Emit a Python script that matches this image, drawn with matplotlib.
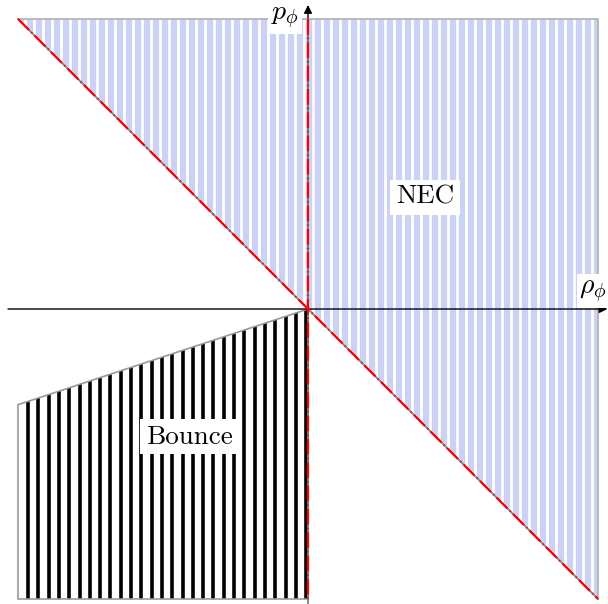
import numpy as np
import matplotlib.pyplot as plt
from matplotlib.patches import Polygon

plt.rcParams['mathtext.fontset'] = 'cm'

# region corners (rho_phi, p_phi)
nec_x = [-1.0, 1.0, 1.0]
nec_y = [1.0, 1.0, -1.0]
bounce_x = [-1.0, 0.0, 0.0, -1.0]
bounce_y = [-0.33, 0.0, -1.0, -1.0]

# boundary lines p = -rho and rho = 0
diag_x = [-1.0, 1.0]
diag_y = [1.0, -1.0]
vert_x = [0.0, 0.0]
vert_y = [1.0, -1.0]

labels = {'NEC': (0.403, 0.386), 'Bounce': (-0.41, -0.441)}

fig = plt.figure(figsize=(6.08, 6.04), dpi=100)
ax = fig.add_axes([0, 0, 1, 1])
ax.set_xlim(-308 / 290, 300 / 290)
ax.set_ylim(-295 / 290, 309 / 290)
ax.axis('off')

# NEC region: light blue vertical stripes
nec = Polygon(np.column_stack([nec_x, nec_y]), closed=True, facecolor='none',
              edgecolor='#b0b0b0', lw=1.2, zorder=1)
ax.add_patch(nec)
xs = np.arange(-1.0, 1.0, 9 / 290)
lines = ax.vlines(xs + 0.012, -1, 1, color='#cbd2f6', lw=4.5, zorder=0.5)
lines.set_clip_path(nec)

# Bounce region: black stripes
bounce = Polygon(np.column_stack([bounce_x, bounce_y]), closed=True, facecolor='none',
                 edgecolor='#999999', lw=1.2, zorder=1)
ax.add_patch(bounce)
xb = np.arange(-1.0 + 10 / 290, 0.0, 10.3 / 290)
blines = ax.vlines(xb, -1, 0, color='black', lw=2.6, zorder=0.5)
blines.set_clip_path(bounce)

# axes with arrows
ax.annotate('', xy=(300 / 290 - 0.002, 0), xytext=(-300 / 290, 0),
            arrowprops=dict(arrowstyle='-|>', color='black', lw=1.0,
                            mutation_scale=12, shrinkA=0, shrinkB=0), zorder=3)
ax.plot([0, 0], [-1, -295 / 290], color='#777777', lw=1.2, zorder=3)
ax.annotate('', xy=(0, 304 / 290), xytext=(0, -1),
            arrowprops=dict(arrowstyle='-|>', color='black', lw=1.0,
                            mutation_scale=12, shrinkA=0, shrinkB=0), zorder=3)

# boundary lines
for lx, ly in [(diag_x, diag_y), (vert_x, vert_y)]:
    ax.plot(lx, ly, color='#888888', lw=1.2, zorder=4)
    ax.plot(lx, ly, color='red', lw=1.6, dashes=(7, 1.5, 0.5, 1.5), zorder=5)

bbox = dict(facecolor='white', edgecolor='none', pad=2)
ax.text(-0.079, 1.007, r'$p_\phi$', fontsize=20, ha='center', va='center', bbox=bbox, zorder=6)
ax.text(0.983, 0.062, r'$\rho_\phi$', fontsize=20, ha='center', va='center', bbox=bbox, zorder=6)
for name, (tx, ty) in labels.items():
    ax.text(tx, ty, name, fontsize=19.5, family='cmr10', ha='center', va='center',
            bbox=dict(facecolor='white', edgecolor='none', pad=4), zorder=6)

fig.savefig('out.png', dpi=100)
